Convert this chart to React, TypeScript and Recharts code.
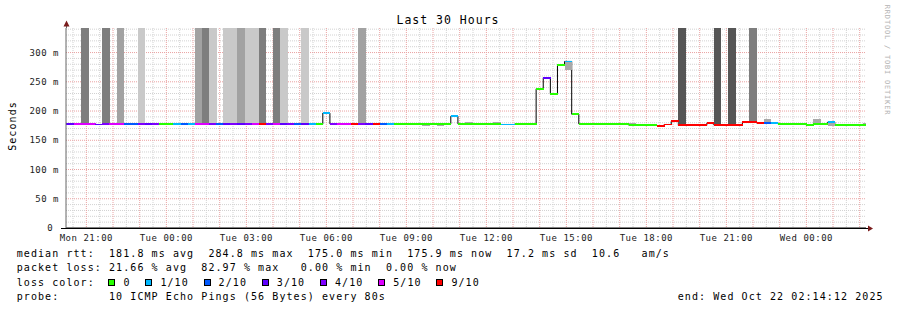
import React from "react";
import { Bar, CartesianGrid, ComposedChart, Line, XAxis, YAxis } from "recharts";

const MONO = "'DejaVu Sans Mono', monospace";

// 16-minute consolidation slots, counted from Mon 00:00; first visible slot is 75
const FIRST_SLOT = 75;
const T_START = 20 + 14 / 60 + 12 / 3600; // Mon 20:14:12 in hours from Mon 00:00
const T_END = T_START + 30;
const Y_TOP = 342;

const medianMs = [
  178, 178, 178.5, 178.5, 178, 177, 177.5, 178.5, 178.5, 178,
  178, 178, 178.5, 178, 178, 178, 178, 178.5, 178, 178.5,
  178.5, 178, 178, 178, 178.5, 178, 178, 178.5, 178.5, 178,
  178.5, 178, 178, 178, 178, 178, 177.5, 196.5, 178, 178.5,
  178.5, 178.5, 178, 178, 178.5, 177.5, 178, 178, 178, 178,
  178, 177.5, 178, 177.5, 178, 191, 178, 178, 178, 178,
  178, 178, 177, 177, 178, 178, 178, 238, 257, 229,
  278.5, 284.8, 194.5, 178, 178, 178, 178, 178, 178, 178,
  176, 175.5, 175.5, 175.5, 175, 177, 182.5, 175.5, 175.5, 175.5,
  175.5, 179, 176, 176, 176, 175.5, 181, 182, 179.5, 180,
  180, 178, 178, 178, 178, 175.5, 178, 178, 181, 175.5,
  175.5, 175.5, 175.5, 176.5,
];

// lost pings out of 10 per slot
const lossTenths = [
  3, 3, 5, 5, 5, 3, 4, 5, 5, 2,
  2, 4, 3, 4, 0, 0, 1, 2, 1, 5,
  5, 4, 2, 3, 4, 3, 4, 5, 9, 4,
  5, 3, 4, 2, 3, 1, 0, 1, 4, 5,
  5, 9, 4, 3, 9, 2, 1, 0, 0, 0,
  0, 0, 0, 0, 0, 1, 0, 0, 0, 0,
  0, 0, 1, 1, 0, 0, 0, 0, 3, 0,
  0, 1, 0, 0, 0, 0, 0, 0, 0, 0,
  0, 0, 0, 0, 9, 9, 9, 9, 9, 9,
  9, 9, 9, 9, 9, 9, 9, 9, 9, 2,
  1, 0, 0, 0, 0, 0, 0, 0, 1, 0,
  0, 0, 0, 0,
];

// slots where the smoke runs to the top (timeouts), with their grey level
const lostSlots = [78, 81, 83, 86, 94, 95, 96, 98, 99, 100, 101, 102, 103, 105, 106, 109, 117, 162, 167, 169, 172];
const lostShade = [3, 3, 2, 1, 2, 3, 1, 1, 1, 2, 1, 1, 3, 3, 1, 1, 2, 4, 4, 4, 3];

// ordinary smoke around the median
const smokeSlots = [126, 128, 132, 136, 146, 155, 174, 181, 183, 188];
const smokeLow = [175, 175, 178, 178, 271, 176, 180, 178, 175, 176];
const smokeHigh = [178, 178, 180.5, 181, 284.8, 180, 187, 187, 183, 180];

const SHADES: Record<number, string> = { 1: "#c9c9c9", 2: "#a2a2a2", 3: "#7e7e7e", 4: "#565656" };
const LOSS_COLORS: Record<number, string> = {
  0: "#26ff00", 1: "#00b8ff", 2: "#0059ff", 3: "#5e00ff", 4: "#7e00ff", 5: "#dd00ff", 9: "#ff0000",
};
const legendLoss = [0, 1, 2, 3, 4, 5, 9];
const legendLabels = ["0", "1/10", "2/10", "3/10", "4/10", "5/10", "9/10"];

const xTicks = [21, 24, 27, 30, 33, 36, 39, 42, 45, 48];
const xTickLabels = ["Mon 21:00", "Tue 00:00", "Tue 03:00", "Tue 06:00", "Tue 09:00", "Tue 12:00", "Tue 15:00", "Tue 18:00", "Tue 21:00", "Wed 00:00"];
const yTicks = [0, 50, 100, 150, 200, 250, 300];

const rttLine = "median rtt:  181.8 ms avg  284.8 ms max  175.0 ms min  175.9 ms now  17.2 ms sd  10.6   am/s";
const lossLine = "packet loss: 21.66 % avg  82.97 % max   0.00 % min  0.00 % now";
const probeLine = "probe:       10 ICMP Echo Pings (56 Bytes) every 80s";
const endLine = "end: Wed Oct 22 02:14:12 2025";

const majorX: number[] = [];
for (let h = 21; h <= 50; h++) majorX.push(h);
const minorX: number[] = [];
for (let h = 20.5; h < T_END; h++) minorX.push(h);
const majorY = [50, 100, 150, 200, 250, 300];
const minorY: number[] = [];
for (let v = 10; v < Y_TOP; v += 10) if (v % 50 !== 0) minorY.push(v);

const rows = medianMs.map((med, i) => {
  const slot = FIRST_SLOT + i;
  const li = lostSlots.indexOf(slot);
  const si = smokeSlots.indexOf(slot);
  return {
    t: (slot * 16 + 8) / 60,
    med,
    loss: lossTenths[i],
    lost: li >= 0 ? [med, Y_TOP] : null,
    shade: li >= 0 ? SHADES[lostShade[li]] : "none",
    smoke: si >= 0 ? [smokeLow[si], smokeHigh[si]] : null,
    seg: [med - 1.6, med + 1.6],
  };
});

const slab = (pick: (p: any) => string) => (p: any) => {
  const { x, y, width, height } = p;
  if (!(height > 0) || !(width > 0)) return null;
  return <rect x={x} y={y} width={width + 0.4} height={height} fill={pick(p.payload)} shapeRendering="crispEdges" />;
};

const tickStyle = { fontSize: 9, fill: "#222", fontFamily: MONO, style: { letterSpacing: "0.5px" } };
const txt = { fontFamily: MONO, fontSize: 10, letterSpacing: "1.08px" } as const;

export default function App() {
  return (
    <div style={{ position: "absolute", left: 0, top: 0, width: 897, height: 310, background: "#fff", fontFamily: MONO }}>
      <ComposedChart width={897} height={310} data={rows} margin={{ top: 28, right: 31, bottom: 52, left: 6 }}>
        <CartesianGrid horizontalValues={minorY} verticalValues={minorX} stroke="#d2d2d2" strokeDasharray="1 1" fill="none" />
        <CartesianGrid horizontalValues={majorY} verticalValues={majorX} stroke="#eaa2a2" strokeDasharray="1 1" fill="none" />
        <XAxis
          dataKey="t"
          type="number"
          domain={[T_START, T_END]}
          allowDataOverflow
          ticks={xTicks}
          interval={0}
          height={30}
          tickSize={0}
          tickMargin={7}
          tick={tickStyle}
          tickFormatter={(v: number) => xTickLabels[xTicks.indexOf(v)] ?? ""}
          axisLine={{ stroke: "#000" }}
        />
        <XAxis xAxisId="lost" dataKey="t" type="number" domain={[T_START, T_END]} allowDataOverflow hide />
        <XAxis xAxisId="smoke" dataKey="t" type="number" domain={[T_START, T_END]} allowDataOverflow hide />
        <XAxis xAxisId="seg" dataKey="t" type="number" domain={[T_START, T_END]} allowDataOverflow hide />
        <YAxis
          type="number"
          domain={[0, Y_TOP]}
          allowDataOverflow
          ticks={yTicks}
          interval={0}
          width={60}
          tickSize={0}
          tickMargin={7}
          tick={tickStyle}
          tickFormatter={(v: number) => (v === 0 ? "0\u00a0" : `${v} m`)}
          axisLine={{ stroke: "#666" }}
        />
        <Line dataKey="med" type="step" stroke="#000" strokeWidth={1} dot={false} activeDot={false} isAnimationActive={false} zIndex={250} />
        <Bar xAxisId="lost" dataKey="lost" barSize={7.11} isAnimationActive={false} shape={slab((d) => d.shade)} />
        <Bar xAxisId="smoke" dataKey="smoke" barSize={7.11} isAnimationActive={false} shape={slab(() => "#a9a9a9")} />
        <Bar xAxisId="seg" dataKey="seg" barSize={7.11} isAnimationActive={false} shape={slab((d) => LOSS_COLORS[d.loss])} />
      </ComposedChart>

      <svg width={897} height={310} style={{ position: "absolute", left: 0, top: 0, pointerEvents: "none" }}>
        <line x1={66.5} y1={22} x2={66.5} y2={28} stroke="#666" />
        <polygon points="63.5,26.5 69.5,26.5 66.5,20.5" fill="#7a1c1c" />
        <line x1={61} y1={228.5} x2={868} y2={228.5} stroke="#000" />
        <polygon points="868,225.5 868,231.5 873,228.5" fill="#7a1c1c" />
        <text x={448} y={20} textAnchor="middle" dominantBaseline="central" fontFamily={MONO} fontSize={11.5} letterSpacing="1px" fill="#000">
          Last 30 Hours
        </text>
        <text transform="translate(12,126) rotate(-90)" textAnchor="middle" dominantBaseline="central" fontFamily={MONO} fontSize={10} letterSpacing="1.08px" fill="#000">
          Seconds
        </text>
        <text transform="translate(887,60) rotate(90)" textAnchor="middle" dominantBaseline="central" fontFamily={MONO} fontSize={7} letterSpacing="0.8px" fill="#b2b2b2">
          RRDTOOL / TOBI OETIKER
        </text>
      </svg>

      <div style={{ position: "absolute", left: 16.7, top: 247.3, lineHeight: "14.13px", whiteSpace: "pre", color: "#000", ...txt }}>
        <div>{rttLine}</div>
        <div>{lossLine}</div>
        <div style={{ display: "flex", alignItems: "center", height: "14.13px" }}>
          <span>loss color:</span>
          {legendLoss.map((l, i) => (
            <React.Fragment key={l}>
              <span
                style={{
                  display: "inline-block",
                  width: 5,
                  height: 5,
                  border: "1px solid #000",
                  background: LOSS_COLORS[l],
                  marginLeft: i === 0 ? 13.7 : 14.8,
                  marginRight: 8,
                }}
              />
              <span>{legendLabels[i]}</span>
            </React.Fragment>
          ))}
        </div>
        <div>{probeLine}</div>
      </div>
      <div style={{ position: "absolute", left: 677.7, top: 247.3 + 3 * 14.13, lineHeight: "14.13px", whiteSpace: "pre", color: "#000", ...txt }}>
        {endLine}
      </div>
    </div>
  );
}
